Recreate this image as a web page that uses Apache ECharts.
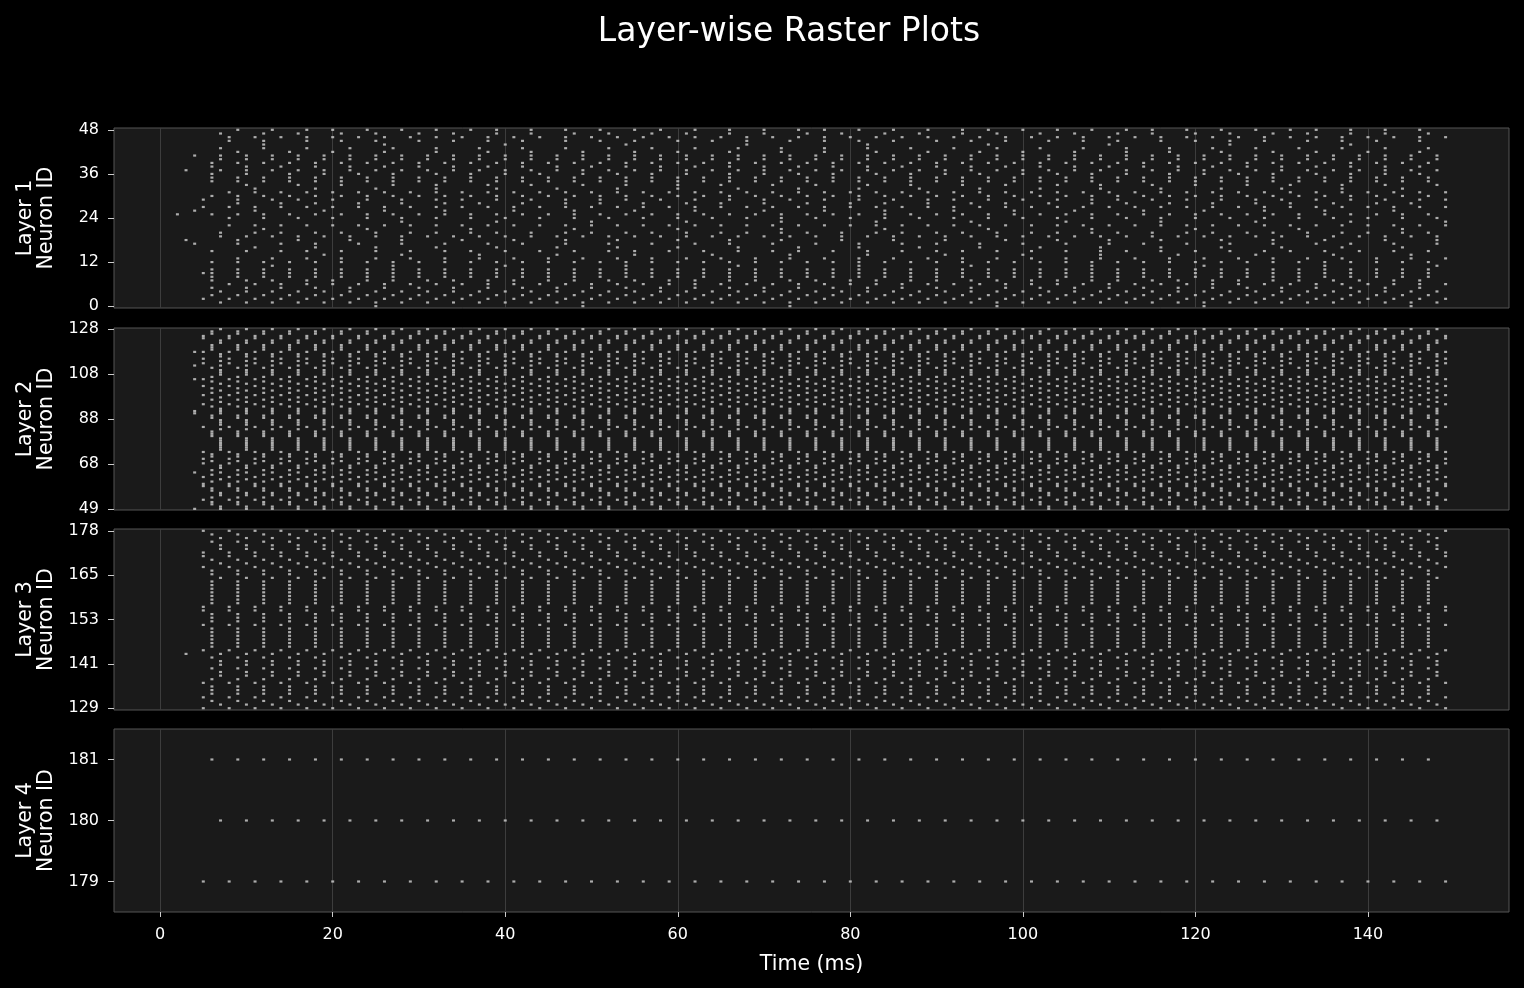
<!DOCTYPE html>
<html>
<head>
<meta charset="utf-8">
<title>Layer-wise Raster Plots</title>
<script src="https://cdn.jsdelivr.net/npm/echarts@6.0.0/dist/echarts.min.js"></script>
<style>
  html, body { margin: 0; padding: 0; background: #000; }
  #raster { width: 1524px; height: 988px; }
</style>
</head>
<body>
<div id="raster"></div>
<script>
// spike trains: first spike time (ms) and firing period (ms) per neuron
// simulation runs 0..149 ms
var T_END = 149;

// layer 1: neurons 0..48
var l1Start = [25, 7, 5, 6, 7, 6, 8, 6, 6, 6,
               6, 13, 6, 9, 19, 6, 11, 4, 3, 7,
               7, 12, 8, 28, 8, 6, 4, 5, 9, 5,
               6, 8, 11, 10, 6, 6, 6, 7, 6, 6,
               7, 4, 9, 7, 12, 8, 8, 7, 9];
var l1Period = [24, 3, 3, 3, 3, 4, 3, 3.5, 3, 3,
                3, 13.5, 3, 4, 9, 3.8, 7, 4.8, 6.3, 3,
                3.6, 12, 3, 11, 4, 3, 7.3, 3, 4.7, 3.8,
                3, 3, 7, 5.5, 3, 3, 4.25, 3, 4, 3,
                3, 3, 5.7, 5, 14, 4.3, 3, 4.5, 3.8];
var l1Extra = [[2, 25], [3, 37], [5, 9]];

// layer 2: neurons 49..128, all fire every 3 ms
var l2Start = [4, 7, 6, 6, 5, 6, 7, 7, 6, 6,
               5, 5, 6, 7, 5, 6, 4, 6, 7, 7,
               5, 6, 5, 6, 6, 5, 7, 7, 7, 7,
               7, 7, 6, 6, 6, 7, 5, 7, 7, 7,
               6, 6, 4, 4, 7, 6, 5, 7, 6, 7,
               5, 6, 7, 6, 5, 7, 6, 5, 6, 7,
               7, 7, 6, 4, 5, 7, 5, 7, 7, 5,
               6, 6, 6, 7, 7, 5, 5, 6, 6, 7];
var l2Period = 3;
var l2Extra = [[4, 118], [4, 106]];

// layer 3: neurons 129..178, every 3 ms
var l3Start = [5, 7, 6, 5, 6, 6, 6, 5, 6, 7,
               7, 6, 7, 7, 6, 7, 5, 6, 6, 6,
               6, 6, 6, 5, 6, 6, 6, 5, 5, 6,
               6, 6, 6, 6, 6, 6, 7, 6, 6, 5,
               7, 6, 5, 5, 7, 7, 6, 7, 6, 5];
var l3Period = 3;
var l3Extra = [[3, 144]];

// layer 4: neurons 179..181
var l4Start = [5, 7, 6];
var l4Period = 3;

var xTicks = [0, 20, 40, 60, 80, 100, 120, 140];
var l1Ticks = [0, 12, 24, 36, 48];
var l2Ticks = [49, 68.75, 88.5, 108.25, 128];
var l3Ticks = [129, 141.25, 153.5, 165.75, 178];
var l4Ticks = [179, 180, 181];

function spikeTrain(starts, period, firstId, extra) {
    var pts = [];
    for (var i = 0; i < starts.length; i++) {
        var p = Array.isArray(period) ? period[i] : period;
        for (var k = 0; ; k++) {
            var t = Math.round(starts[i] + k * p);
            if (t > T_END) break;
            pts.push([t, firstId + i]);
        }
    }
    (extra || []).forEach(function (e) { pts.push(e); });
    return pts;
}

var FONT = 'DejaVu Sans';
var grids = [
    {top: 128, height: 180},
    {top: 328, height: 182},
    {top: 529, height: 181},
    {top: 729, height: 183}
].map(function (g) {
    return {left: 114, width: 1395, top: g.top, height: g.height, show: true,
        backgroundColor: '#1a1a1a', borderColor: '#555555', borderWidth: 1};
});

function xAxisFor(idx) {
    var last = idx === 3;
    return {
        type: 'value', gridIndex: idx, min: -5.35, max: 156.35, position: 'bottom',
        axisLine: {show: false, onZero: false},
        axisTick: {show: last, customValues: xTicks, length: 5, lineStyle: {color: '#cccccc'}},
        axisLabel: {show: last, customValues: xTicks, color: '#ffffff', fontSize: 16,
            fontFamily: FONT, margin: 15},
        splitLine: {show: true, lineStyle: {color: '#3d3d3d', width: 1}},
        name: last ? 'Time (ms)' : '', nameLocation: 'middle', nameGap: 42,
        nameTextStyle: {color: '#ffffff', fontSize: 20.5, fontFamily: FONT}
    };
}

function yAxisFor(idx, min, max, ticks, name) {
    return {
        type: 'value', gridIndex: idx, min: min, max: max, position: 'left',
        axisLine: {show: false, onZero: false},
        axisTick: {show: true, customValues: ticks, length: 6, lineStyle: {color: '#cccccc'}},
        axisLabel: {customValues: ticks, color: '#ffffff', fontSize: 16, fontFamily: FONT, margin: 15,
            formatter: function (v) { return Math.floor(v); }},
        splitLine: {show: false},
        name: name, nameLocation: 'middle', nameRotate: 90, nameGap: 57,
        nameTextStyle: {color: '#ffffff', fontSize: 20.5, lineHeight: 21, fontFamily: FONT}
    };
}

function layerSeries(idx, data) {
    return {
        type: 'scatter', xAxisIndex: idx, yAxisIndex: idx, data: data,
        symbol: 'rect', symbolSize: [3, 2.2], itemStyle: {color: '#d2d2d2'},
        silent: true, progressive: 0, animation: false
    };
}

var chart = echarts.init(document.getElementById('raster'));
chart.setOption({
    backgroundColor: '#000000',
    animation: false,
    graphic: [{
        type: 'text', x: 789, y: 32,
        style: {text: 'Layer-wise Raster Plots', fill: '#ffffff', fontSize: 33, fontFamily: FONT,
            align: 'center', verticalAlign: 'middle'}
    }],
    grid: grids,
    xAxis: [xAxisFor(0), xAxisFor(1), xAxisFor(2), xAxisFor(3)],
    yAxis: [
        yAxisFor(0, -0.5, 48.5, l1Ticks, 'Layer 1\nNeuron ID'),
        yAxisFor(1, 48.5, 128.5, l2Ticks, 'Layer 2\nNeuron ID'),
        yAxisFor(2, 128.5, 178.5, l3Ticks, 'Layer 3\nNeuron ID'),
        yAxisFor(3, 178.5, 181.5, l4Ticks, 'Layer 4\nNeuron ID')
    ],
    series: [
        layerSeries(0, spikeTrain(l1Start, l1Period, 0, l1Extra)),
        layerSeries(1, spikeTrain(l2Start, l2Period, 49, l2Extra)),
        layerSeries(2, spikeTrain(l3Start, l3Period, 129, l3Extra)),
        layerSeries(3, spikeTrain(l4Start, l4Period, 179))
    ]
});
</script>
</body>
</html>
